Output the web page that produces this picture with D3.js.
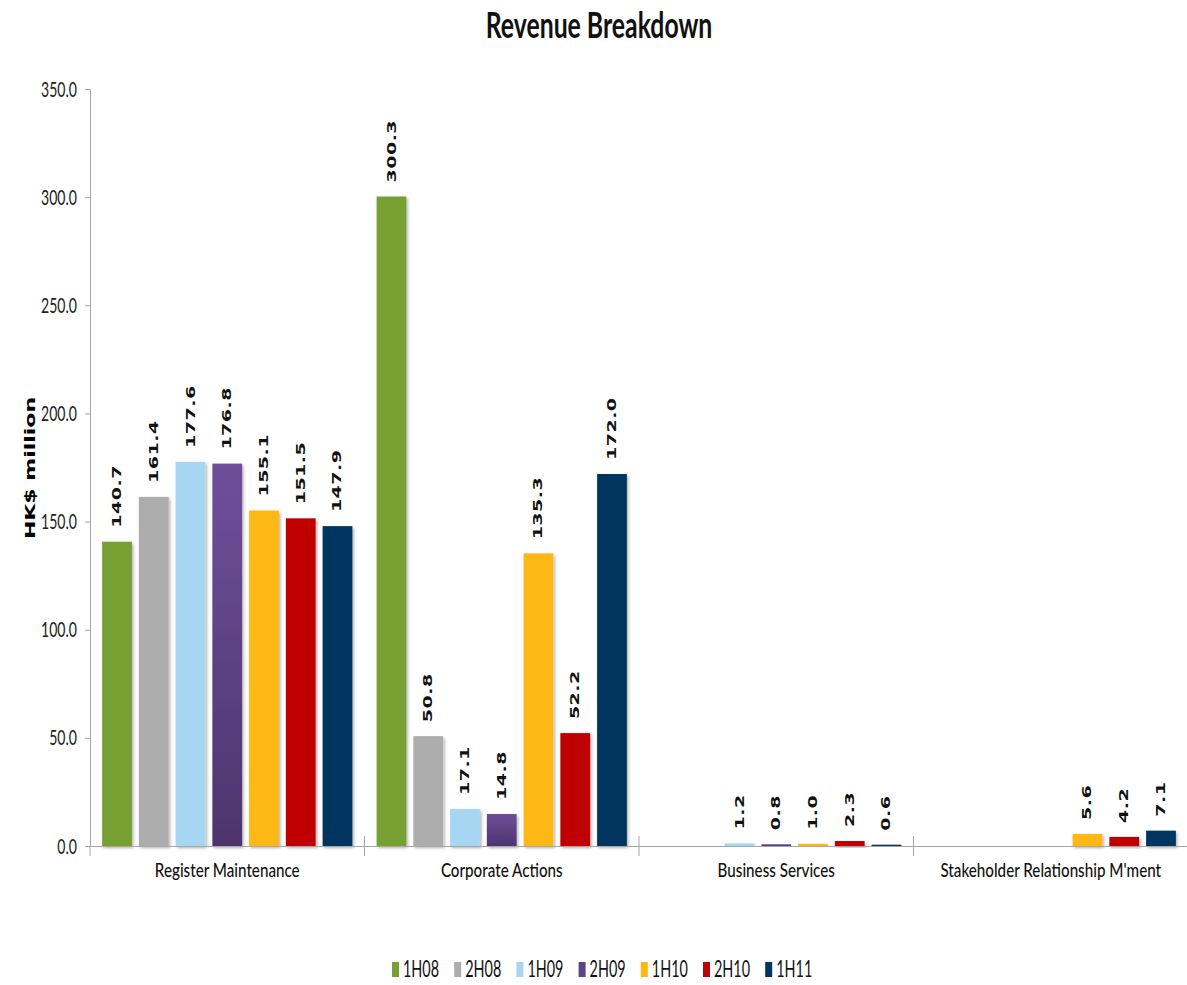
<!DOCTYPE html>
<html>
<head>
<meta charset="utf-8">
<script src="https://cdn.jsdelivr.net/npm/d3@7"></script>
<style>
  html, body { margin: 0; padding: 0; background: #fff; }
  svg { display: block; }
</style>
</head>
<body>
<svg id="chart" width="1187" height="985"></svg>
<script>
// ---------- data ----------
const categories = ["Register Maintenance", "Corporate Actions", "Business Services", "Stakeholder Relationship M'ment"];
const seriesNames = ["1H08", "2H08", "1H09", "2H09", "1H10", "2H10", "1H11"];
const v1H08 = [140.7, 300.3, null, null];
const v2H08 = [161.4, 50.8, null, null];
const v1H09 = [177.6, 17.1, 1.2, null];
const v2H09 = [176.8, 14.8, 0.8, null];
const v1H10 = [155.1, 135.3, 1.0, 5.6];
const v2H10 = [151.5, 52.2, 2.3, 4.2];
const v1H11 = [147.9, 172.0, 0.6, 7.1];
const yTicks = [0, 50, 100, 150, 200, 250, 300, 350];
const seriesValues = [v1H08, v2H08, v1H09, v2H09, v1H10, v2H10, v1H11];
const seriesColors = ["#77A033", "#ADADAD", "#A6D6F2", "url(#purpleGrad)", "#FDB813", "#C00000", "#023661"];
const legendColors = ["#77A033", "#ADADAD", "#A6D6F2", "#5E4283", "#FDB813", "#C00000", "#023661"];

// ---------- layout ----------
const SX = 0.67;            // horizontal squeeze of the original picture
const mLeft = 90, mRight = 1188, mTop = 89, mBottom = 846;

const svg = d3.select("#chart");
const defs = svg.append("defs");
const grad = defs.append("linearGradient").attr("id", "purpleGrad")
  .attr("x1", 0).attr("y1", 0).attr("x2", 0).attr("y2", 1);
grad.append("stop").attr("offset", "0%").attr("stop-color", "#6E4F9A");
grad.append("stop").attr("offset", "100%").attr("stop-color", "#4E356D");
const f = defs.append("filter").attr("id", "shadow")
  .attr("x", "-20%").attr("y", "-20%").attr("width", "150%").attr("height", "150%");
f.append("feDropShadow").attr("dx", 1.5).attr("dy", 2).attr("stdDeviation", 1.5)
  .attr("flood-color", "#000").attr("flood-opacity", 0.3);

const y = d3.scaleLinear().domain([0, 350]).range([mBottom, mTop]);
const x0 = d3.scaleBand().domain(categories).range([mLeft, mRight]).paddingInner(0).paddingOuter(0);
const x1 = d3.scaleBand().domain(seriesNames).range([0, x0.bandwidth()])
  .paddingInner(0.19).paddingOuter(0.33);

// title
svg.append("text")
  .attr("transform", `translate(599,38) scale(0.67,1)`)
  .attr("text-anchor", "middle")
  .style("font-family", "Lato, 'Open Sans', sans-serif")
  .style("font-weight", "bold")
  .style("font-size", "37px")
  .attr("fill", "#111")
  .text("Revenue Breakdown");

// y axis
const yAxis = svg.append("g")
  .attr("transform", `translate(${mLeft},0)`)
  .call(d3.axisLeft(y).tickValues(yTicks).tickFormat(d3.format(".1f")).tickSize(5).tickSizeOuter(0));
yAxis.select(".domain").attr("stroke", "#A6A6A6");
yAxis.selectAll(".tick line").attr("stroke", "#A6A6A6");
yAxis.selectAll(".tick text")
  .attr("x", 0).attr("dy", null)
  .attr("transform", `translate(-13,7) scale(0.67,1)`)
  .style("font-family", "Lato, sans-serif")
  .style("font-size", "21px")
  .attr("fill", "#222");

// y label
svg.append("text")
  .attr("transform", `translate(35,468) scale(${SX},1) rotate(-90)`)
  .attr("text-anchor", "middle")
  .style("font-family", "'DejaVu Sans', sans-serif")
  .style("font-weight", "bold")
  .style("font-size", "22px")
  .text("HK$ million");

// bars
const flat = [];
categories.forEach((c, ci) => {
  seriesNames.forEach((s, si) => {
    const v = seriesValues[si][ci];
    if (v !== null) flat.push({ c, s, si, v });
  });
});

const barG = svg.append("g");
barG.selectAll("rect").data(flat).join("rect")
  .attr("x", d => x0(d.c) + x1(d.s))
  .attr("width", x1.bandwidth())
  .attr("y", d => y(d.v))
  .attr("height", d => y(0) - y(d.v))
  .attr("fill", d => seriesColors[d.si])
  .attr("filter", "url(#shadow)");

// value labels
svg.append("g").selectAll("text").data(flat).join("text")
  .attr("transform", d => `translate(${x0(d.c) + x1(d.s) + x1.bandwidth() / 2 + 4},${y(d.v) - 14}) scale(${SX},1) rotate(-90)`)
  .attr("text-anchor", "start")
  .style("font-family", "'DejaVu Sans', sans-serif")
  .style("font-weight", "bold")
  .style("font-size", "19px")
  .style("letter-spacing", "0.5px")
  .attr("fill", "#111")
  .text(d => d3.format(".1f")(d.v));

// x axis
const xAxis = svg.append("g");
xAxis.append("line").attr("x1", mLeft).attr("x2", mRight).attr("y1", mBottom + 0.5).attr("y2", mBottom + 0.5)
  .attr("stroke", "#A6A6A6");
const bounds = categories.map(c => x0(c)).concat([x0.range()[1]]);
xAxis.selectAll("line.sep").data(bounds).join("line").attr("class", "sep")
  .attr("x1", d => d).attr("x2", d => d)
  .attr("y1", (d, i) => (i === 0 || i === bounds.length - 1) ? mBottom : mBottom - 10)
  .attr("y2", mBottom + 10)
  .attr("stroke", "#A6A6A6");

xAxis.selectAll("text").data(categories).join("text")
  .attr("transform", c => `translate(${x0(c) + x0.bandwidth() / 2},877) scale(0.76,1)`)
  .attr("text-anchor", "middle")
  .style("font-family", "Lato, sans-serif")
  .style("font-size", "20px")
  .style("font-weight", "500")
  .attr("fill", "#111")
  .text(c => c);

// legend
const legStart = 392, legStep = 62.2;
const leg = svg.append("g");
seriesNames.forEach((s, i) => {
  const lx = legStart + i * legStep;
  leg.append("rect").attr("x", lx).attr("y", 962).attr("width", 7).attr("height", 15)
    .attr("fill", legendColors[i]);
  leg.append("text")
    .attr("transform", `translate(${lx + 11},977) scale(0.6,1)`)
    .style("font-family", "Lato, sans-serif")
    .style("font-size", "24px")
    .attr("fill", "#111")
    .text(s);
});
</script>
</body>
</html>
